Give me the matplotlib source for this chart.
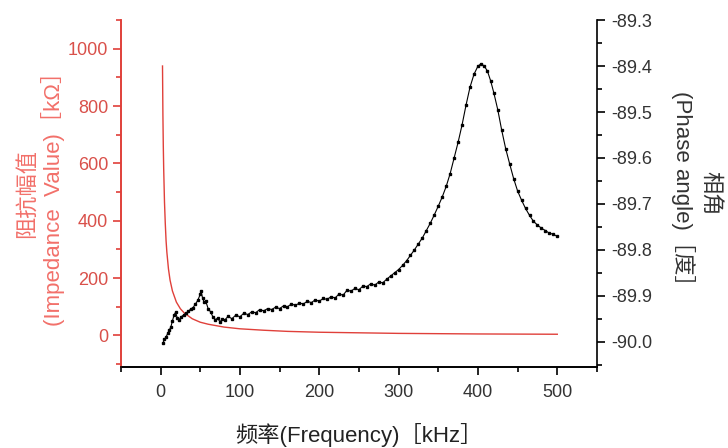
import numpy as np
import matplotlib
matplotlib.use('Agg')
import matplotlib.pyplot as plt
from matplotlib.ticker import MultipleLocator, FormatStrFormatter

plt.rcParams['font.family'] = ['Liberation Sans', 'Noto Sans CJK SC']
plt.rcParams['axes.unicode_minus'] = False

# impedance magnitude (kOhm) vs frequency (kHz)
imp_freq = [2.5, 3, 3.5, 4, 5, 6, 7, 8, 10, 12, 15, 20, 25, 30, 40, 50, 60, 80,
            100, 130, 160, 200, 250, 300, 350, 400, 450, 500]
imp_val = [940, 770, 660, 580, 465, 390, 330, 290, 232, 193, 155, 116, 93, 78, 58, 46, 39, 29,
           23, 18, 14, 11, 9, 7, 6, 5, 4.5, 4]

# phase angle (deg) vs frequency (kHz)
ph_freq = [3, 5, 7, 9, 11, 13, 15, 17, 19, 21, 23, 26, 29, 32, 35, 38, 41, 44, 47, 50,
           51, 53, 55, 57, 60, 63, 66, 69, 72, 75, 78, 81, 85, 90, 95, 100, 105, 110, 115, 120,
           125, 130, 135, 140, 145, 150, 155, 160, 165, 170, 175, 180, 185, 190, 195, 200,
           205, 210, 215, 220, 225, 230, 235, 240, 245, 250, 255, 260, 265, 270, 275, 280,
           285, 290, 295, 300, 305, 310, 315, 320, 325, 330, 335, 340, 345, 350, 355, 360,
           365, 370, 375, 380, 385, 390, 395, 400, 404, 408, 412, 416, 420, 425, 430, 435,
           440, 445, 450, 455, 460, 465, 470, 475, 480, 485, 490, 495, 500]
ph_val = [-90.003, -89.995, -89.990, -89.982, -89.975, -89.968, -89.955, -89.942, -89.936, -89.948,
          -89.953, -89.946, -89.942, -89.938, -89.934, -89.929, -89.926, -89.918, -89.910, -89.897,
          -89.890, -89.905, -89.914, -89.912, -89.928, -89.935, -89.946, -89.952, -89.949, -89.957,
          -89.950, -89.953, -89.945, -89.950, -89.942, -89.946, -89.938, -89.941, -89.935, -89.937,
          -89.930, -89.933, -89.928, -89.930, -89.925, -89.928, -89.922, -89.924, -89.918, -89.921,
          -89.916, -89.918, -89.912, -89.915, -89.909, -89.912, -89.906, -89.908, -89.902, -89.905,
          -89.896, -89.899, -89.888, -89.890, -89.884, -89.887, -89.879, -89.880, -89.874, -89.877,
          -89.870, -89.872, -89.864, -89.857, -89.850, -89.843, -89.834, -89.824, -89.812, -89.800,
          -89.787, -89.774, -89.758, -89.742, -89.724, -89.705, -89.685, -89.662, -89.634, -89.600,
          -89.566, -89.528, -89.485, -89.446, -89.418, -89.400, -89.395, -89.400, -89.411, -89.432,
          -89.458, -89.495, -89.540, -89.580, -89.613, -89.645, -89.672, -89.692, -89.710, -89.725,
          -89.738, -89.746, -89.753, -89.758, -89.764, -89.766, -89.771]

red = '#e0403a'
red_text = '#d9504a'
red_label = '#f2706a'

fig = plt.figure(figsize=(7.28, 4.48), dpi=100)
ax = fig.add_axes([0.166, 0.181, 0.654, 0.774])
ax2 = ax.twinx()

ax.plot(imp_freq, imp_val, color=red, lw=1.0)
ax2.plot(ph_freq, ph_val, color='black', lw=0.8, marker='s', markersize=1.6)

# x axis
ax.set_xlim(-50, 550)
ax.xaxis.set_major_locator(MultipleLocator(100))
ax.xaxis.set_minor_locator(MultipleLocator(50))
ax.set_xlabel('频率(Frequency)［kHz］', fontsize=16, color='#222222', labelpad=16)

# left axis
ax.set_ylim(-110, 1100)
ax.yaxis.set_minor_locator(MultipleLocator(100))
ax.set_yticks([0, 200, 400, 600, 800, 1000])
ax.set_ylabel('阻抗幅值\n(Impedance  Value)［kΩ］', fontsize=16, color=red_label, labelpad=2)

# right axis
ax2.set_ylim(-90.055, -89.3)
ax2.yaxis.set_major_locator(MultipleLocator(0.1))
ax2.yaxis.set_minor_locator(MultipleLocator(0.05))
ax2.yaxis.set_major_formatter(FormatStrFormatter('%.1f'))
ax2.set_ylabel('相角\n(Phase angle)［度］', fontsize=16, color='#333333', rotation=270,
               va='bottom', labelpad=14)

# spines and ticks
for a in (ax, ax2):
    a.spines['top'].set_visible(False)
ax.spines['right'].set_visible(False)
ax2.spines['left'].set_color(red)
ax2.spines['left'].set_linewidth(1.2)
ax2.spines['right'].set_linewidth(1.2)
ax2.spines['bottom'].set_linewidth(1.2)
ax.spines['left'].set_color(red)
ax.spines['left'].set_linewidth(1.2)
ax.spines['bottom'].set_linewidth(1.2)

ax.tick_params(axis='x', which='major', direction='out', length=6, width=1.2,
               labelsize=13, labelcolor='#333333', pad=6)
ax.tick_params(axis='x', which='minor', direction='out', length=3.5, width=1.2)
ax.tick_params(axis='y', which='major', direction='out', length=6, width=1.2,
               color=red, labelsize=13, labelcolor=red_text, pad=3)
ax.tick_params(axis='y', which='minor', direction='out', length=3.5, width=1.2, color=red)
ax2.tick_params(axis='y', which='major', direction='out', length=6, width=1.2,
                labelsize=13, labelcolor='#333333', pad=4)
ax2.tick_params(axis='y', which='minor', direction='out', length=3.5, width=1.2)

fig.savefig('out.png', dpi=100)
